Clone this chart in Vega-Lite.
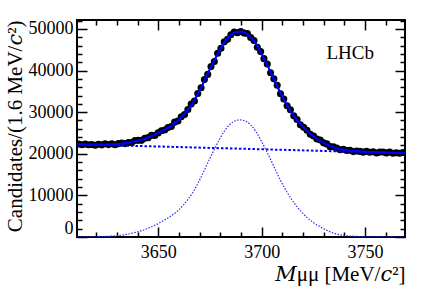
{
"$schema": "https://vega.github.io/schema/vega-lite/v6.json",
"width": 328, "height": 217,
"autosize": {"type": "none"},
"padding": {"left": 77, "top": 20, "right": 22, "bottom": 53},
"background": "white",
"config": {
 "font": "'Liberation Serif', 'DejaVu Serif', serif",
 "view": {"stroke": "black", "strokeWidth": 2},
 "axis": {"domain": false, "grid": false, "labelFont": "'Liberation Serif', 'DejaVu Serif', serif", "labelFontSize": 18, "labelColor": "black", "tickColor": "black", "tickWidth": 1.5, "titleFont": "'Liberation Serif', 'DejaVu Serif', serif", "titleFontSize": 21, "titleFontWeight": "normal", "titleColor": "black"}
},
"datasets": {
 "pts": [
  {"m":3611.5,"n":22332},{"m":3613.1,"n":22176},{"m":3614.7,"n":22361},{"m":3616.3,"n":22189},{"m":3617.9,"n":22248},{"m":3619.5,"n":22059},{"m":3621.1,"n":22296},{"m":3622.7,"n":22147},{"m":3624.3,"n":22413},{"m":3625.9,"n":22204},
  {"m":3627.5,"n":22410},{"m":3629.1,"n":22174},{"m":3630.7,"n":22433},{"m":3632.3,"n":22609},{"m":3633.9,"n":22444},{"m":3635.5,"n":22701},{"m":3637.1,"n":22674},{"m":3638.7,"n":23191},{"m":3640.3,"n":23226},{"m":3641.9,"n":23229},
  {"m":3643.5,"n":23746},{"m":3645.1,"n":23879},{"m":3646.7,"n":24428},{"m":3648.3,"n":24397},{"m":3649.9,"n":25018},{"m":3651.5,"n":25527},{"m":3653.1,"n":25706},{"m":3654.7,"n":26287},{"m":3656.3,"n":26556},{"m":3657.9,"n":27606},
  {"m":3659.5,"n":27865},{"m":3661.1,"n":28895},{"m":3662.7,"n":29433},{"m":3664.3,"n":30653},{"m":3665.9,"n":31940},{"m":3667.5,"n":32684},{"m":3669.1,"n":34484},{"m":3670.7,"n":35859},{"m":3672.3,"n":37836},{"m":3673.9,"n":39076},
  {"m":3675.5,"n":40950},{"m":3677.1,"n":42174},{"m":3678.7,"n":44165},{"m":3680.3,"n":45335},{"m":3681.9,"n":46895},{"m":3683.5,"n":47497},{"m":3685.1,"n":48618},{"m":3686.7,"n":49267},{"m":3688.3,"n":49093},{"m":3689.9,"n":49382},
  {"m":3691.5,"n":49001},{"m":3693.1,"n":48922},{"m":3694.7,"n":47963},{"m":3696.3,"n":47211},{"m":3697.9,"n":45596},{"m":3699.5,"n":44554},{"m":3701.1,"n":42861},{"m":3702.7,"n":41589},{"m":3704.3,"n":39476},{"m":3705.9,"n":38005},
  {"m":3707.5,"n":36450},{"m":3709.1,"n":34428},{"m":3710.7,"n":33180},{"m":3712.3,"n":31542},{"m":3713.9,"n":30569},{"m":3715.5,"n":29149},{"m":3717.1,"n":28257},{"m":3718.7,"n":26986},{"m":3720.3,"n":26389},{"m":3721.9,"n":25667},
  {"m":3723.5,"n":24684},{"m":3725.1,"n":24256},{"m":3726.7,"n":23543},{"m":3728.3,"n":23315},{"m":3729.9,"n":22622},{"m":3731.5,"n":22377},{"m":3733.1,"n":21716},{"m":3734.7,"n":21667},{"m":3736.3,"n":21361},{"m":3737.9,"n":20986},
  {"m":3739.5,"n":21101},{"m":3741.1,"n":20780},{"m":3742.7,"n":20854},{"m":3744.3,"n":20519},{"m":3745.9,"n":20680},{"m":3747.5,"n":20575},{"m":3749.1,"n":20396},{"m":3750.7,"n":20595},{"m":3752.3,"n":20387},{"m":3753.9,"n":20487},
  {"m":3755.5,"n":20199},{"m":3757.1,"n":20402},{"m":3758.7,"n":20417},{"m":3760.3,"n":20213},{"m":3761.9,"n":20408},{"m":3763.5,"n":20145},{"m":3765.1,"n":20252},{"m":3766.7,"n":20108},{"m":3768.3,"n":20297}
 ],
 "fit": [
  {"m":3609.5,"t":22294,"s":8},{"m":3612,"t":22267,"s":14},{"m":3614.5,"t":22243,"s":23},{"m":3617,"t":22223,"s":37},{"m":3619.5,"t":22209,"s":56},{"m":3622,"t":22204,"s":84},{"m":3624.5,"t":22214,"s":127},{"m":3627,"t":22250,"s":197},{"m":3629.5,"t":22302,"s":282},{"m":3632,"t":22409,"s":422},
  {"m":3634.5,"t":22573,"s":619},{"m":3637,"t":22793,"s":873},{"m":3639.5,"t":23069,"s":1182},{"m":3642,"t":23402,"s":1548},{"m":3644.5,"t":23792,"s":1971},{"m":3647,"t":24321,"s":2534},{"m":3649.5,"t":24851,"s":3097},{"m":3652,"t":25521,"s":3800},{"m":3654.5,"t":26192,"s":4504},{"m":3657,"t":27003,"s":5349},
  {"m":3659.5,"t":27955,"s":6334},{"m":3662,"t":29189,"s":7601},{"m":3664.5,"t":30704,"s":9149},{"m":3667,"t":32500,"s":10979},{"m":3669.5,"t":34719,"s":13231},{"m":3672,"t":37219,"s":15764},{"m":3674.5,"t":39860,"s":18438},{"m":3677,"t":42360,"s":20972},{"m":3679.5,"t":44720,"s":23365},{"m":3682,"t":46798,"s":25476},
  {"m":3684.5,"t":48313,"s":27024},{"m":3687,"t":49124,"s":27869},{"m":3689.5,"t":49372,"s":28150},{"m":3692,"t":49058,"s":27869},{"m":3694.5,"t":48180,"s":27024},{"m":3697,"t":46598,"s":25476},{"m":3699.5,"t":44454,"s":23365},{"m":3702,"t":42028,"s":20972},{"m":3704.5,"t":39461,"s":18438},{"m":3707,"t":36753,"s":15764},
  {"m":3709.5,"t":34187,"s":13231},{"m":3712,"t":31902,"s":10979},{"m":3714.5,"t":29898,"s":9008},{"m":3717,"t":28175,"s":7319},{"m":3719.5,"t":26735,"s":5912},{"m":3722,"t":25435,"s":4645},{"m":3724.5,"t":24417,"s":3660},{"m":3727,"t":23538,"s":2815},{"m":3729.5,"t":22801,"s":2111},{"m":3732,"t":22121,"s":1464},
  {"m":3734.5,"t":21609,"s":985},{"m":3737,"t":21209,"s":619},{"m":3739.5,"t":20951,"s":394},{"m":3742,"t":20777,"s":253},{"m":3744.5,"t":20660,"s":169},{"m":3747,"t":20570,"s":113},{"m":3749.5,"t":20494,"s":70},{"m":3752,"t":20433,"s":42},{"m":3754.5,"t":20386,"s":28},{"m":3757,"t":20344,"s":20},
  {"m":3759.5,"t":20305,"s":14},{"m":3762,"t":20266,"s":8},{"m":3764.5,"t":20231,"s":6},{"m":3767,"t":20194,"s":3},{"m":3769.5,"t":20161,"s":3}
 ],
 "bg": [{"m":3610.7,"b":22270},{"m":3769.3,"b":20161}],
 "lbl": [{"txt": "LHCb"}]
},
"resolve": {"axis": {"x": "independent", "y": "independent"}},
"layer": [
 {
  "data": {"name": "pts"},
  "mark": {"type": "circle", "color": "black", "opacity": 1, "size": 50, "clip": true},
  "encoding": {
   "x": {"field": "m", "type": "quantitative", "scale": {"domain": [3610.7, 3769.3], "nice": false, "zero": false},
    "axis": {"orient": "bottom", "values": [3650, 3700, 3750], "format": "d", "tickSize": -10, "labelPadding": 16, "labelFlush": false, "title": "𝑀μμ [MeV/𝑐²]", "titleAnchor": "end", "titlePadding": 2}},
   "y": {"field": "n", "type": "quantitative", "scale": {"domain": [0, 52150], "nice": false},
    "axis": {"orient": "left", "values": [0, 10000, 20000, 30000, 40000, 50000], "format": "d", "tickSize": -10, "labelPadding": 14, "labelFlush": true, "title": "Candidates/(1.6 MeV/𝑐²)", "titleAnchor": "end", "titlePadding": 3}}
  }
 },
 {
  "data": {"name": "bg"},
  "mark": {"type": "line", "color": "#0000ff", "strokeWidth": 2, "strokeDash": [2.5, 2]},
  "encoding": {
   "x": {"field": "m", "type": "quantitative", "scale": {"domain": [3610.7, 3769.3], "nice": false, "zero": false},
    "axis": {"orient": "bottom", "values": [3620,3630,3640,3660,3670,3680,3690,3710,3720,3730,3740,3760], "tickSize": -5, "labels": false, "title": null}},
   "y": {"field": "b", "type": "quantitative", "scale": {"domain": [0, 52150], "nice": false},
    "axis": {"orient": "left", "values": [2000,4000,6000,8000,12000,14000,16000,18000,22000,24000,26000,28000,32000,34000,36000,38000,42000,44000,46000,48000,52000], "tickSize": -5, "labels": false, "title": null}}
  }
 },
 {
  "data": {"name": "fit"},
  "mark": {"type": "line", "color": "#2a2aff", "strokeWidth": 1.2, "strokeDash": [1.5, 1.5], "interpolate": "monotone", "clip": true},
  "encoding": {
   "x": {"field": "m", "type": "quantitative", "scale": {"domain": [3610.7, 3769.3], "nice": false, "zero": false},
    "axis": {"orient": "top", "values": [3650, 3700, 3750], "tickSize": -10, "labels": false, "title": null}},
   "y": {"field": "s", "type": "quantitative", "scale": {"domain": [0, 52150], "nice": false},
    "axis": {"orient": "right", "values": [0, 10000, 20000, 30000, 40000, 50000], "tickSize": -10, "labels": false, "title": null}}
  }
 },
 {
  "data": {"name": "fit"},
  "mark": {"type": "line", "color": "#0000ff", "strokeWidth": 2.2, "interpolate": "monotone", "clip": true},
  "encoding": {
   "x": {"field": "m", "type": "quantitative", "scale": {"domain": [3610.7, 3769.3], "nice": false, "zero": false},
    "axis": {"orient": "top", "values": [3620,3630,3640,3660,3670,3680,3690,3710,3720,3730,3740,3760], "tickSize": -5, "labels": false, "title": null}},
   "y": {"field": "t", "type": "quantitative", "scale": {"domain": [0, 52150], "nice": false},
    "axis": {"orient": "right", "values": [2000,4000,6000,8000,12000,14000,16000,18000,22000,24000,26000,28000,32000,34000,36000,38000,42000,44000,46000,48000,52000], "tickSize": -5, "labels": false, "title": null}}
  }
 },
 {
  "data": {"name": "lbl"},
  "mark": {"type": "text", "font": "'Liberation Serif', 'DejaVu Serif', serif", "fontSize": 19, "color": "black", "align": "center", "baseline": "middle"},
  "encoding": {
   "text": {"field": "txt"},
   "x": {"datum": 3742.8, "type": "quantitative", "scale": {"domain": [3610.7, 3769.3], "nice": false, "zero": false}, "axis": null},
   "y": {"datum": 44230, "type": "quantitative", "scale": {"domain": [0, 52150], "nice": false}, "axis": null}
  }
 }
]
}
